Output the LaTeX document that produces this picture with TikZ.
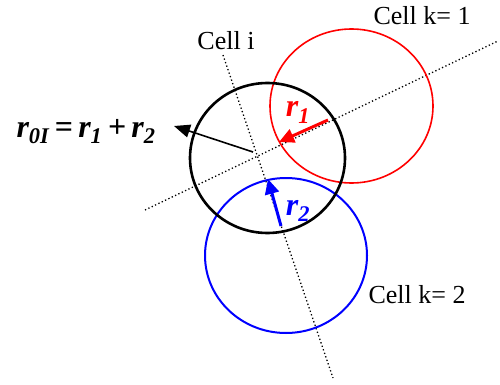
\documentclass[tikz,border=0pt]{standalone}
\usepackage{fontspec}
\setmainfont{Liberation Serif}
\usetikzlibrary{arrows.meta}
\tikzset{
  axisline/.style={line width=1.3pt, dash pattern=on 1.3pt off 2.4pt},
  celllabel/.style={anchor=base, inner sep=0pt, font=\fontsize{26}{30}\selectfont},
  veclabel/.style={anchor=base, inner sep=0pt, font=\fontsize{32}{36}\selectfont\bfseries\itshape},
  vecarrow/.style={line width=3pt, -{Triangle[length=15pt,width=14pt]}},
}
\begin{document}
\begin{tikzpicture}[x=1pt,y=-1pt]
\useasboundingbox (0,0) rectangle (500,385);
% dotted axes
\coordinate (a1) at (223,55);
\coordinate (a2) at (333,378);
\coordinate (b1) at (145,210);
\coordinate (b2) at (498,41);
\draw[axisline] (a1) -- (a2);
\draw[axisline] (b1) -- (b2);
% circles
\draw[red, line width=1.6pt] (351.5,106) ellipse [x radius=81.5, y radius=77];
\draw[blue, line width=2pt] (286,255.5) ellipse [x radius=81, y radius=77.5];
\draw[black, line width=2.6pt] (267.5,158) ellipse [x radius=77.5, y radius=75];
% arrows
\coordinate (o) at (253,152);
\coordinate (ot) at (174,126);
\draw[line width=1.6pt, -{Triangle[length=16pt,width=13pt]}] (o) -- (ot);
\coordinate (r1s) at (328,120);
\coordinate (r1e) at (279,142);
\draw[vecarrow, red] (r1s) -- (r1e);
\coordinate (r2s) at (281,226);
\coordinate (r2e) at (268,179);
\draw[vecarrow, blue] (r2s) -- (r2e);
% labels
\node[celllabel] (ci) at (226,50) {Cell i};
\node[celllabel] (ck1) at (422,25) {Cell k= 1};
\node[celllabel] (ck2) at (417,303) {Cell k= 2};
\node[veclabel, red] (lr1) at (298,117) {r\textsubscript{1}};
\node[veclabel, blue] (lr2) at (298,215) {r\textsubscript{2}};
\node[veclabel] (lsum) at (86,137) {r\textsubscript{0I}\,=\,r\textsubscript{1}\,+\,r\textsubscript{2}};
\end{tikzpicture}
\end{document}
